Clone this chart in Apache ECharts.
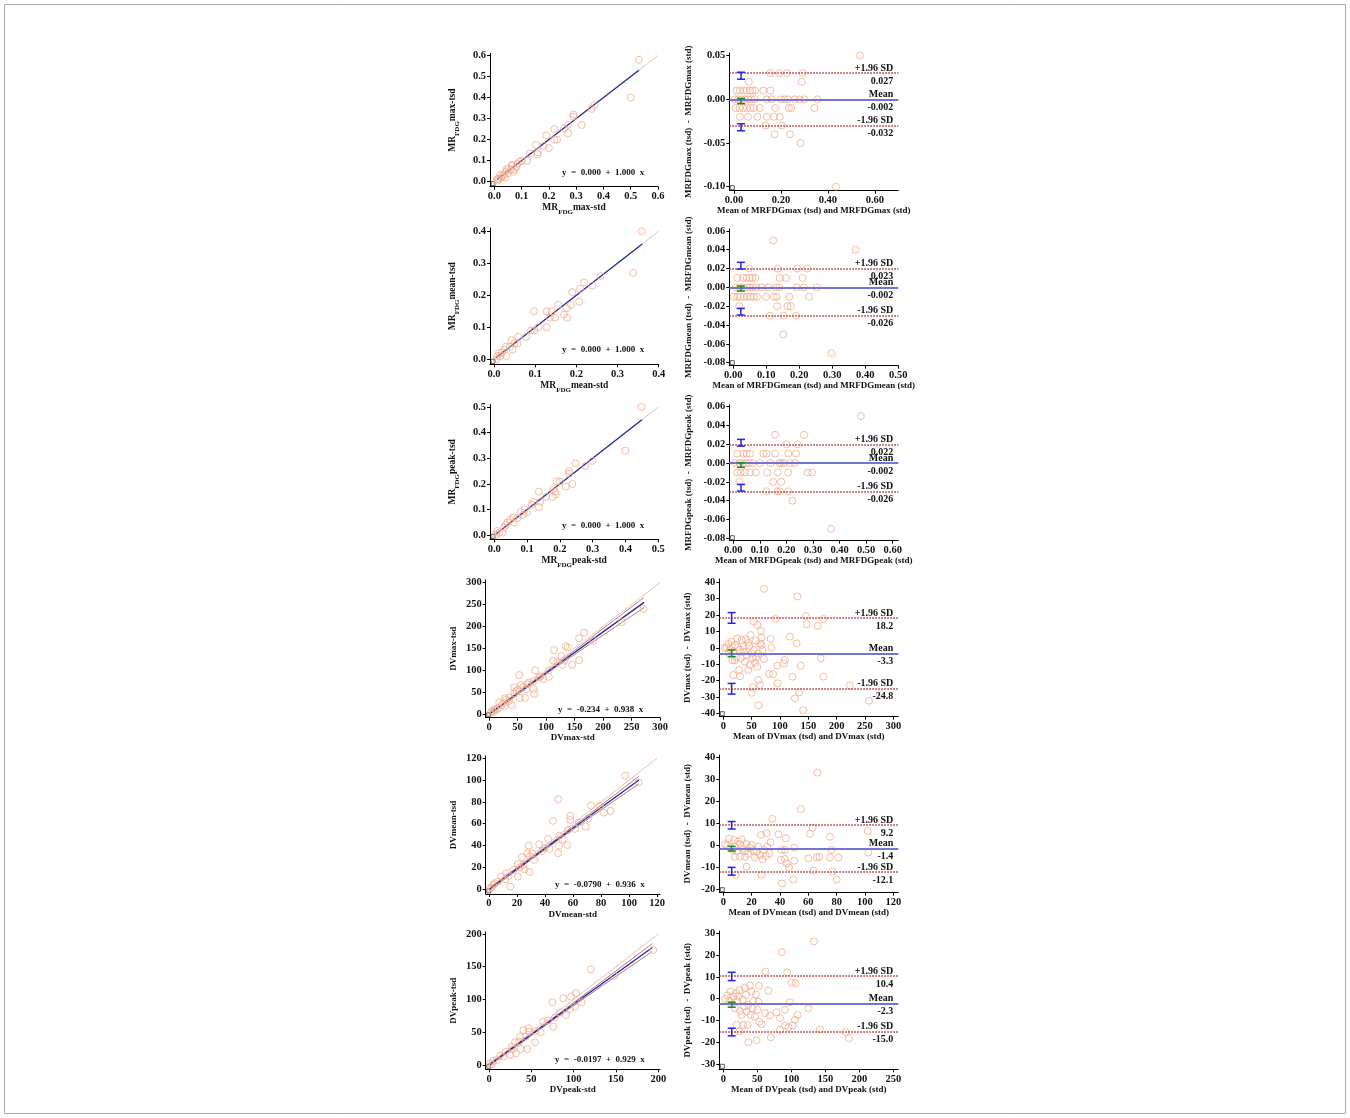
<!DOCTYPE html>
<html><head><meta charset="utf-8">
<script src="https://cdn.jsdelivr.net/npm/echarts@6/dist/echarts.min.js"></script>
<style>html,body{margin:0;padding:0;background:#fff}#c{width:1350px;height:1118px}</style>
</head><body><div id="c"></div>
<script>
// ---------------- DATA ----------------
// tick values
const tkMR6 = [0,0.1,0.2,0.3,0.4,0.5,0.6];
const tkMR4 = [0,0.1,0.2,0.3,0.4];
const tkMR5 = [0,0.1,0.2,0.3,0.4,0.5];
const tkBA1y = [-0.10,-0.05,0,0.05];
const tkBA1x = [0,0.2,0.4,0.6];
const tkBA2y = [-0.08,-0.06,-0.04,-0.02,0,0.02,0.04,0.06];
const tkBA2x = [0,0.1,0.2,0.3,0.4,0.5];
const tkBA3x = [0,0.1,0.2,0.3,0.4,0.5,0.6];
const tkDV300 = [0,50,100,150,200,250,300];
const tkBA4y = [-40,-30,-20,-10,0,10,20,30,40];
const tkDV120 = [0,20,40,60,80,100,120];
const tkBA5y = [-20,-10,0,10,20,30,40];
const tkDV200 = [0,50,100,150,200];
const tkBA6y = [-30,-20,-10,0,10,20,30];
const tkBA6x = [0,50,100,150,200,250];

// Regression equations [intercept, slope] and fitted x range
const eqMax = [0.000, 1.000], fitMax = [0.01, 0.53];
const eqMean = [0.000, 1.000], fitMean = [0.005, 0.36];
const eqPeak = [0.000, 1.000], fitPeak = [0.005, 0.45];
const eqDVmax = [-0.234, 0.938], fitDVmax = [1, 272];
const eqDVmean = [-0.0790, 0.936], fitDVmean = [0.5, 107];
const eqDVpeak = [-0.0197, 0.929], fitDVpeak = [1, 193];
const eqText = ['y  =  0.000  +  1.000  x','y  =  0.000  +  1.000  x','y  =  0.000  +  1.000  x',
  'y  =  -0.234  +  0.938  x','y  =  -0.0790  +  0.936  x','y  =  -0.0197  +  0.929  x'];

// identity line end points
const idMax = 0.6, idMean = 0.4, idPeak = 0.5, idDVmax = 300, idDVmean = 120, idDVpeak = 200;

// 95% CI bands of DV regressions
const ciUpDVmax = [[1,3],[30,30],[60,58.2],[100,96],[150,145],[200,195],[272,266]];
const ciLoDVmax = [[1,-1.5],[30,25.5],[60,53.8],[100,91.5],[150,136],[200,180],[272,243]];
const ciUpDVmean = [[0.5,1.6],[30,29],[60,57.5],[107,103.5]];
const ciLoDVmean = [[0.5,-0.8],[30,27],[60,54.7],[107,96.6]];
const ciUpDVpeak = [[1,2.6],[40,38.3],[100,95.2],[193,185.5]];
const ciLoDVpeak = [[1,-0.8],[40,35.9],[100,90.6],[193,173.5]];

// Bland-Altman limits [+1.96SD, mean, -1.96SD]
const limMax = [0.027,-0.002,-0.032];
const limMean = [0.023,-0.002,-0.026];
const limPeak = [0.022,-0.002,-0.026];
const limDVmax = [18.2,-3.3,-24.8];
const limDVmean = [9.2,-1.4,-12.1];
const limDVpeak = [10.4,-2.3,-15.0];
const limNames = ['+1.96 SD','Mean','-1.96 SD'];

// CI error bars [x, low, high, kind(0 limit,1 mean)]
const ebMax = [[0.03,0.023,0.031,0],[0.03,-0.005,0.001,1],[0.03,-0.036,-0.028,0]];
const ebMean = [[0.023,0.0195,0.0266,0],[0.023,-0.0039,0.0014,1],[0.023,-0.0294,-0.0223,0]];
const ebPeak = [[0.029,0.018,0.0252,0],[0.029,-0.0045,0.0004,1],[0.029,-0.0298,-0.0227,0]];
const ebDVmax = [[14.7,15,21.5,0],[14.7,-5.4,-1.3,1],[14.7,-28.2,-21.7,0]];
const ebDVmean = [[5.9,7.4,10.8,0],[5.9,-2.6,-0.45,1],[5.9,-13.5,-10,0]];
const ebDVpeak = [[12.3,8.3,12.1,0],[12.3,-3.9,-1.6,1],[12.3,-17,-13.5,0]];

// scatter: [std, tsd]
const mrMaxSc = [[0.53,0.58],[0.50,0.40],[0.366,0.362],[0.357,0.346],[0.32,0.27],[0.29,0.32],[0.29,0.31],[0.27,0.27],[0.256,0.254],[0.27,0.23],[0.22,0.25],[0.23,0.20],[0.22,0.20],[0.19,0.22],[0.20,0.16],[0.18,0.17],[0.153,0.175],[0.158,0.13],[0.16,0.14],[0.131,0.135],[0.121,0.10],[0.092,0.095],[0.085,0.085],[0.08,0.07],[0.064,0.075],[0.06,0.056],[0.07,0.048],[0.051,0.063],[0.043,0.048],[0.033,0.032],[0.039,0.02],[0.021,0.032],[0.015,0.016],[0.009,0.011],[0.012,0.005],[0.025,0.02],[0.05,0.04],[0.075,0.06],[0.1,0.1],[0.045,0.06],[0.065,0.08],[0.03,0.025]];
const mrMeanSc = [[0.359,0.40],[0.338,0.27],[0.259,0.26],[0.239,0.23],[0.219,0.24],[0.209,0.22],[0.207,0.18],[0.19,0.21],[0.187,0.17],[0.178,0.13],[0.17,0.14],[0.177,0.16],[0.156,0.17],[0.148,0.13],[0.136,0.13],[0.128,0.15],[0.14,0.15],[0.128,0.10],[0.097,0.15],[0.108,0.10],[0.098,0.09],[0.078,0.07],[0.059,0.07],[0.057,0.05],[0.043,0.06],[0.039,0.04],[0.029,0.04],[0.03,0.01],[0.019,0.02],[0.008,0.01],[0.006,0.0],[0.015,0.01],[0.05,0.05],[0.09,0.09],[0.045,0.03],[0.025,0.03],[0.012,0.02]];
const mrPeakSc = [[0.449,0.50],[0.40,0.33],[0.299,0.29],[0.278,0.27],[0.248,0.28],[0.228,0.25],[0.228,0.24],[0.238,0.20],[0.218,0.19],[0.19,0.21],[0.2,0.21],[0.185,0.17],[0.188,0.16],[0.178,0.15],[0.18,0.18],[0.158,0.15],[0.136,0.17],[0.136,0.11],[0.114,0.12],[0.14,0.13],[0.093,0.10],[0.088,0.08],[0.07,0.066],[0.058,0.07],[0.048,0.06],[0.04,0.05],[0.06,0.05],[0.035,0.04],[0.03,0.03],[0.025,0.01],[0.009,0.017],[0.005,0.003],[0.015,0.01],[0.1,0.09],[0.12,0.13],[0.08,0.09]];
const dvMaxSc = [[271,240],[233,210],[183,167],[167,186],[158,173],[158,123],[146,112],[138,152],[134,155],[132,122],[127,132],[129,112],[114,146],[113,122],[105,100],[105,85],[95,80],[88,84],[81,100],[78,75],[79,46],[78,57],[67,68],[65,57],[63,37],[53,89],[56,66],[51,56],[54,37],[44,61],[44,47],[40,20],[36,38],[28,36],[27,18],[22,20],[18,27],[16,13],[10,11],[6,8],[3,3],[48,52],[60,62],[70,72],[35,30],[25,25],[12,9],[8,5],[30,32],[90,86],[120,118]];
const dvMeanSc = [[97.3,104],[106.7,98],[86.8,71.8],[81.9,70.2],[79,76.6],[72.7,76.6],[70.9,65],[69,57.4],[61.5,55.3],[58,67.2],[58,63.5],[56.4,54.4],[56,40.6],[52.6,45.8],[50.3,48.9],[49.4,82.4],[49.4,33],[50,40],[45.6,62.6],[42.3,46],[43.3,37],[35.8,41.2],[39.5,37.6],[28.3,40],[28.8,15.9],[27.6,33],[31,33],[32.3,26.9],[29.2,30],[23.6,29.3],[24.6,22.3],[25.3,18.3],[20.6,22.9],[20.6,11.6],[17.5,17.7],[15.2,2.4],[12.4,14.7],[11.7,9.2],[8.9,11.6],[6.5,7],[4.2,5.5],[3,4],[1.9,1.8],[0.7,0.9],[64,61],[38,35],[22,20],[14,12]];
const dvPeakSc = [[194,175.6],[120,146],[148,136],[102.8,109.4],[96.9,104.3],[87.8,101.8],[74.8,95.7],[109.4,95.7],[101.6,89],[95.7,85.5],[90.9,76.3],[78,72.3],[76,58.5],[64.2,66],[61,50],[54.3,34.6],[46.5,56],[47.6,50.9],[40.6,53.4],[43.7,43.3],[45.3,24.4],[36.6,43.3],[35.8,35.6],[37.4,24.4],[30.7,34.6],[31.9,17.8],[26.8,28],[24.8,15.3],[20,20.4],[16.9,12.7],[13,14.2],[9,7.6],[5.1,6.1],[1.2,2.5],[3.1,1],[55,52],[70,68],[28,24],[84,80]];

// Bland-Altman: [mean, difference]
const mrMaxBA = [[0.537,0.05],[0.155,0.03],[0.194,0.03],[0.225,0.03],[0.293,0.03],[0.063,0.02],[0.289,0.02],[0.011,0.01],[0.025,0.01],[0.042,0.01],[0.054,0.01],[0.068,0.01],[0.079,0.01],[0.09,0.01],[0.125,0.01],[0.155,0.01],[0.004,0],[0.018,0],[0.032,0],[0.046,0],[0.06,0],[0.074,0],[0.088,0],[0.14,0],[0.16,0],[0.2,0],[0.215,0],[0.23,0],[0.26,0],[0.28,0],[0.30,0],[0.356,0],[0.008,-0.01],[0.023,-0.01],[0.039,-0.01],[0.054,-0.01],[0.07,-0.01],[0.085,-0.01],[0.11,-0.01],[0.176,-0.01],[0.234,-0.01],[0.244,-0.01],[0.342,-0.01],[0.025,-0.02],[0.06,-0.02],[0.10,-0.02],[0.14,-0.02],[0.17,-0.02],[0.195,-0.02],[0.135,-0.03],[0.204,-0.03],[0.173,-0.04],[0.239,-0.04],[0.283,-0.05],[0.434,-0.10]];
const mrMeanBA = [[0.121,0.05],[0.371,0.04],[0.048,0.02],[0.134,0.02],[0.194,0.02],[0.224,0.02],[0.012,0.01],[0.03,0.01],[0.04,0.01],[0.05,0.01],[0.058,0.01],[0.067,0.01],[0.141,0.01],[0.16,0.01],[0.21,0.01],[0.008,0],[0.02,0],[0.03,0],[0.04,0],[0.05,0],[0.06,0],[0.07,0],[0.085,0],[0.106,0],[0.13,0],[0.139,0],[0.192,0],[0.214,0],[0.253,0],[0.002,-0.01],[0.012,-0.01],[0.022,-0.01],[0.032,-0.01],[0.042,-0.01],[0.052,-0.01],[0.062,-0.01],[0.072,-0.01],[0.099,-0.01],[0.123,-0.01],[0.131,-0.01],[0.17,-0.01],[0.229,-0.01],[0.018,-0.02],[0.133,-0.02],[0.164,-0.02],[0.174,-0.02],[0.111,-0.03],[0.152,-0.03],[0.19,-0.03],[0.152,-0.05],[0.298,-0.07]];
const mrPeakBA = [[0.48,0.05],[0.157,0.03],[0.266,0.03],[0.20,0.02],[0.242,0.02],[0.015,0.01],[0.038,0.01],[0.05,0.01],[0.063,0.01],[0.113,0.01],[0.125,0.01],[0.157,0.01],[0.207,0.01],[0.236,0.01],[0.006,0],[0.023,0],[0.035,0],[0.048,0],[0.06,0],[0.073,0],[0.1,0],[0.14,0],[0.173,0],[0.18,0],[0.19,0],[0.213,0],[0.232,0],[0.015,-0.01],[0.028,-0.01],[0.044,-0.01],[0.063,-0.01],[0.085,-0.01],[0.128,-0.01],[0.167,-0.01],[0.207,-0.01],[0.279,-0.01],[0.297,-0.01],[0.023,-0.02],[0.151,-0.02],[0.18,-0.02],[0.125,-0.03],[0.166,-0.03],[0.176,-0.03],[0.207,-0.03],[0.222,-0.04],[0.368,-0.07]];
const dvMaxBA = [[71.8,36],[130.6,31.3],[145.9,19.4],[147,14.4],[166.5,13.5],[176.5,17.6],[92,17.6],[54,16],[60,14],[66.5,10.3],[117.6,6.8],[67.6,6.2],[129.4,2.7],[83.5,5.4],[85,0],[67.6,1.7],[69,-1.3],[171.8,-6.4],[71.8,-6.8],[108.8,-7.4],[107,-9.5],[95,-10.9],[136.5,-10.9],[176.5,-17.6],[122,-17.6],[81,-16],[88,-16],[96,-21.7],[61.8,-19.6],[64.7,-22.7],[223.5,-23],[51.8,-24.1],[126.5,-30.8],[134,-27.2],[50,-27.4],[257,-32.3],[61.8,-35.1],[141,-38],[5.9,0.3],[8.8,2.3],[11.8,-0.9],[14.7,3.8],[17.6,-2.3],[20.6,1.7],[23.5,-5.8],[24.7,5.8],[29.4,-1.3],[31,-6.4],[32.4,4.8],[35.3,0.7],[36.5,-2.3],[38.2,-8.5],[40,5.2],[41,-4.4],[44,-13.5],[45.9,1.3],[47,-10.5],[48.2,7.8],[50,-3.4],[51.8,-6.4],[54,-1.3],[55.9,-9.1],[57.6,4.4],[60,-11.5],[61.8,-3.4],[64.7,2.7],[17.6,-16.6],[29.4,-17.3],[28,-13.5],[20.6,-7.5],[16,-7.5],[2,0],[10,-3],[26,0.5],[44,3],[58,-6]];
const dvMeanBA = [[66.4,33],[54.6,16.4],[34.6,12],[63,8],[61.2,5.2],[101.9,6.5],[75.3,3.9],[30.6,5.5],[39,5],[26.6,4.7],[44.2,3.2],[102.4,-3.3],[76.5,-2.1],[50,-1.1],[41.2,-2.1],[43.5,-2.1],[67.8,-5.2],[65.9,-5.5],[75.3,-5.5],[81.2,-5.5],[60,-5.9],[40.7,-6.7],[43.5,-6.2],[50,-7],[44.7,-8.2],[46.4,-10],[63.5,-11.5],[77,-11.9],[80,-15.5],[49.4,-15.5],[41.4,-17.3],[16.5,-9.7],[27,-13.5],[8.9,-13.5],[1.2,0.5],[2.8,0],[4.2,3],[5.2,-0.9],[6.6,-2.1],[7.5,2.4],[8.2,-0.6],[9.4,-2.6],[10.6,1.7],[11.8,0.6],[12.9,2.7],[14.1,-1.4],[15.3,-2.6],[16.5,0.5],[17.6,-3.9],[18.8,-1.1],[20,0.2],[21.2,-2.1],[22.4,-5.5],[23.5,-2.9],[24.7,-0.6],[25.9,-4.4],[27.8,-6.4],[28.7,-2.1],[30.1,-4.8],[31,-0.6],[32.5,-3.6],[33.4,1.4],[8.2,-5.2],[11.8,-5.2],[15.3,-5.2]];
const dvPeakBA = [[133.3,26.2],[85.8,21.3],[94,12],[62.3,12.4],[100.5,7.4],[106.4,7.1],[52.5,5.9],[66.2,3.7],[98,-1.6],[125,-4.4],[90.7,-5.1],[61.3,-6.6],[109.3,-7.4],[78.4,-6.2],[68.6,-7.7],[83.3,-8.9],[105.4,-9.7],[52.9,-10.5],[56.4,-11.7],[90.7,-12.3],[102,-12.3],[96,-13],[83.3,-14.3],[70,-17.6],[49,-18.9],[36.8,-19.9],[142,-14],[180,-15.3],[185,-18],[2.5,0],[5.9,1.5],[8.8,-1],[10.8,3.3],[12.3,-2.5],[14.7,1],[17.2,-4.4],[18.6,2.5],[20.6,-1.3],[22,1],[23.5,4],[24.5,-5.6],[27,-7.4],[28.4,-0.5],[30.4,-3.6],[31.9,5.1],[33.3,1.8],[34.3,-5.9],[35.8,-12],[36.8,-2.8],[39.2,6],[40.2,-7.4],[41.7,3.3],[43.1,-4.4],[44.1,-1],[46.6,-8.2],[48,2],[50,-5.1],[51.5,-1.3],[19.6,-12],[29.4,-12],[23.5,-15]];

// ---------------- LAYOUT / STYLE ----------------
const FONT = '"Liberation Serif", "DejaVu Serif", serif';
const CIRC = '#F3AC8C';
const sub = () => ({a:{fontSize:9.5,fontWeight:'bold',fontFamily:FONT,color:'#111',lineHeight:11,verticalAlign:'top'},
                   s:{fontSize:7,fontWeight:'bold',fontFamily:FONT,color:'#111',lineHeight:7,verticalAlign:'top',padding:[6,0,0,0]}});

const panels = [
 {type:'sc', box:[490,53.5,168,133.2], xr:[-0.016,0.6], yr:[-0.024,0.61], xt:tkMR6, yt:tkMR6, xd:1, yd:1,
  xn:'{a|MR}{s|FDG}{a|max-std}', yn:'{a|MR}{s|FDG}{a|max-tsd}', rich:true, xg:15, yg:31,
  data:mrMaxSc, eq:eqMax, fit:fitMax, id:idMax, eqi:0, eqPos:[557,163]},
 {type:'ba', box:[729.3,53,169,137.7], xr:[-0.02,0.7], yr:[-0.1046,0.053], xt:tkBA1x, yt:tkBA1y, xd:2, yd:2,
  xn:'Mean of MRFDGmax (tsd) and MRFDGmax (std)', yn:'MRFDGmax (tsd)  -  MRFDGmax (std)', xg:14, yg:36,
  data:mrMaxBA, lim:limMax, ld:3, eb:ebMax},
 {type:'sc', box:[490,228,168.7,136.3], xr:[-0.0097,0.4], yr:[-0.0156,0.41], xt:tkMR4, yt:tkMR4, xd:1, yd:1,
  xn:'{a|MR}{s|FDG}{a|mean-std}', yn:'{a|MR}{s|FDG}{a|mean-tsd}', rich:true, xg:15, yg:31,
  data:mrMeanSc, eq:eqMean, fit:fitMean, id:idMean, eqi:1, eqPos:[557,340]},
 {type:'ba', box:[729.3,229,169,136.7], xr:[-0.012,0.5], yr:[-0.0832,0.062], xt:tkBA2x, yt:tkBA2y, xd:2, yd:2,
  xn:'Mean of MRFDGmean (tsd) and MRFDGmean (std)', yn:'MRFDGmean (tsd)  -  MRFDGmean (std)', xg:14, yg:36,
  data:mrMeanBA, lim:limMean, ld:3, eb:ebMean},
 {type:'sc', box:[490,404.4,168.3,134.9], xr:[-0.013,0.5], yr:[-0.0156,0.51], xt:tkMR5, yt:tkMR5, xd:1, yd:1,
  xn:'{a|MR}{s|FDG}{a|peak-std}', yn:'{a|MR}{s|FDG}{a|peak-tsd}', rich:true, xg:15, yg:31,
  data:mrPeakSc, eq:eqPeak, fit:fitPeak, id:idPeak, eqi:2, eqPos:[557,516]},
 {type:'ba', box:[729.3,404.8,169,135.9], xr:[-0.015,0.621], yr:[-0.0826,0.062], xt:tkBA3x, yt:tkBA2y, xd:2, yd:2,
  xn:'Mean of MRFDGpeak (tsd) and MRFDGpeak (std)', yn:'MRFDGpeak (tsd)  -  MRFDGpeak (std)', xg:14, yg:36,
  data:mrPeakBA, lim:limPeak, ld:3, eb:ebPeak},
 {type:'sc', box:[485.7,580,174.3,137.7], xr:[-5.8,300], yr:[-8.4,306], xt:tkDV300, yt:tkDV300, xd:0, yd:0,
  xn:'DVmax-std', yn:'DVmax-tsd', xg:14, yg:28,
  data:dvMaxSc, eq:eqDVmax, fit:fitDVmax, id:idDVmax, eqi:3, eqPos:[553,700], ciU:ciUpDVmax, ciL:ciLoDVmax},
 {type:'ba', box:[719.3,579,179,137.7], xr:[-7,308.8], yr:[-42,42], xt:tkDV300, yt:tkBA4y, xd:0, yd:0,
  xn:'Mean of DVmax (tsd) and DVmax (std)', yn:'DVmax (tsd)  -  DVmax (std)', xg:15, yg:27,
  data:dvMaxBA, lim:limDVmax, ld:1, eb:ebDVmax},
 {type:'sc', box:[485.7,756,174.3,138], xr:[-2.3,122], yr:[-4.3,122], xt:tkDV120, yt:tkDV120, xd:0, yd:0,
  xn:'DVmean-std', yn:'DVmean-tsd', xg:14, yg:28,
  data:dvMeanSc, eq:eqDVmean, fit:fitDVmean, id:idDVmean, eqi:4, eqPos:[550,875], ciU:ciUpDVmean, ciL:ciLoDVmean},
 {type:'ba', box:[719.3,755,179,137.7], xr:[-2.8,123.5], yr:[-21.5,41], xt:tkDV120, yt:tkBA5y, xd:0, yd:0,
  xn:'Mean of DVmean (tsd) and DVmean (std)', yn:'DVmean (tsd)  -  DVmean (std)', xg:15, yg:27,
  data:dvMeanBA, lim:limDVmean, ld:1, eb:ebDVmean},
 {type:'sc', box:[485.7,932,174.3,137.3], xr:[-3.9,202], yr:[-6.6,203], xt:tkDV200, yt:tkDV200, xd:0, yd:0,
  xn:'DVpeak-std', yn:'DVpeak-tsd', xg:14, yg:28,
  data:dvPeakSc, eq:eqDVpeak, fit:fitDVpeak, id:idDVpeak, eqi:5, eqPos:[550,1050], ciU:ciUpDVpeak, ciL:ciLoDVpeak},
 {type:'ba', box:[719.3,931,179,138.3], xr:[-5.9,257.4], yr:[-32.3,31], xt:tkBA6x, yt:tkBA6y, xd:0, yd:0,
  xn:'Mean of DVpeak (tsd) and DVpeak (std)', yn:'DVpeak (tsd)  -  DVpeak (std)', xg:15, yg:27,
  data:dvPeakBA, lim:limDVpeak, ld:1, eb:ebDVpeak}
];

const grid=[], xAxis=[], yAxis=[], series=[], title=[];
const lblStyle = {fontFamily:FONT, fontWeight:'bold', fontSize:10.5, color:'#111'};
const nameStyle = {fontFamily:FONT, fontWeight:'bold', fontSize:9, color:'#111'};

panels.forEach((p,i)=>{
  grid.push({left:p.box[0], top:p.box[1], width:p.box[2], height:p.box[3], containLabel:false});
  const common = {gridIndex:i, type:'value', splitLine:{show:false},
    axisLine:{show:true,onZero:false,lineStyle:{color:'#000',width:1}},
    axisTick:{show:true,inside:false,length:3,lineStyle:{color:'#000'}},
    nameLocation:'middle'};
  xAxis.push(Object.assign({}, common, {min:p.xr[0], max:p.xr[1],
    axisTick:Object.assign({}, common.axisTick, {customValues:p.xt}),
    axisLabel:Object.assign({customValues:p.xt, margin:4, formatter:v=>Number(v).toFixed(p.xd)}, lblStyle),
    name:p.xn, nameGap:p.xg,
    nameTextStyle:p.rich ? {rich:sub()} : nameStyle}));
  yAxis.push(Object.assign({}, common, {min:p.yr[0], max:p.yr[1],
    axisTick:Object.assign({}, common.axisTick, {customValues:p.yt}),
    axisLabel:Object.assign({customValues:p.yt, margin:4, formatter:v=>Number(v).toFixed(p.yd)}, lblStyle),
    name:p.yn, nameGap:p.yg, nameRotate:90,
    nameTextStyle:p.rich ? {rich:sub()} : nameStyle}));

  const ax = {xAxisIndex:i, yAxisIndex:i};
  // corner marker
  series.push(Object.assign({type:'scatter', silent:true, symbol:'rect', symbolSize:4, symbolOffset:[3,-3],
    itemStyle:{color:'rgba(0,0,0,0)', borderColor:'#333', borderWidth:1}, data:[[p.xr[0],p.yr[0]]], z:1, clip:false}, ax));

  if(p.type==='sc'){
    series.push(Object.assign({type:'line', silent:true, symbol:'none', data:[[0,0],[p.id,p.id]],
      lineStyle:{color:'#EDBDBD', width:1}, z:2}, ax));
    if(p.ciU){
      series.push(Object.assign({type:'line', silent:true, symbol:'none', smooth:true, data:p.ciU,
        lineStyle:{color:'#B8787A', width:1}, z:3}, ax));
      series.push(Object.assign({type:'line', silent:true, symbol:'none', smooth:true, data:p.ciL,
        lineStyle:{color:'#B8787A', width:1}, z:3}, ax));
    }
    series.push(Object.assign({type:'line', silent:true, symbol:'none',
      data:[[p.fit[0], p.eq[0]+p.eq[1]*p.fit[0]],[p.fit[1], p.eq[0]+p.eq[1]*p.fit[1]]],
      lineStyle:{color:'#1F2A9E', width:1.3}, z:4}, ax));
    series.push(Object.assign({type:'scatter', silent:true, symbol:'circle', symbolSize:7, data:p.data,
      itemStyle:{color:'rgba(0,0,0,0)', borderColor:CIRC, borderWidth:1}, z:5}, ax));
    title.push({text:eqText[p.eqi], left:p.eqPos[0], top:p.eqPos[1],
      textStyle:{fontFamily:FONT, fontWeight:'bold', fontSize:9, color:'#111'}});
  } else {
    series.push(Object.assign({type:'scatter', silent:true, symbol:'circle', symbolSize:7, data:p.data,
      itemStyle:{color:'rgba(0,0,0,0)', borderColor:CIRC, borderWidth:1}, z:3}, ax));
    const sd = {color:'#B0262A', width:1.5, type:'dotted'};
    const mn = {color:'#7474D6', width:1.8, type:'solid'};
    const lab = {fontFamily:FONT, fontWeight:'bold', fontSize:10, color:'#111', distance:0, lineHeight:10};
    const mdTop = [], mdBot = [];
    p.lim.forEach((v,k)=>{
      const st = k===1 ? mn : sd;
      mdTop.push({yAxis:v, lineStyle:st, label:Object.assign({position:'insideEndTop', formatter:limNames[k], padding:[0,5,0,0]}, lab)});
      mdBot.push({yAxis:v, lineStyle:{color:'rgba(0,0,0,0)', width:0.1}, label:Object.assign({position:'insideEndBottom', formatter:v.toFixed(p.ld), padding:[3,5,0,0]}, lab)});
    });
    series.push(Object.assign({type:'line', silent:true, data:[], z:4,
      markLine:{silent:true, symbol:'none', animation:false, data:mdTop}}, ax));
    series.push(Object.assign({type:'line', silent:true, data:[], z:4,
      markLine:{silent:true, symbol:'none', animation:false, data:mdBot}}, ax));
    series.push(Object.assign({type:'custom', silent:true, z:6, data:p.eb, encode:{x:0, y:[1,2]},
      renderItem:(params, api)=>{
        const x=api.value(0), lo=api.value(1), hi=api.value(2), k=api.value(3);
        const a=api.coord([x,lo]), b=api.coord([x,hi]);
        const c = k ? '#1E8C2A' : '#2424E6', w=4, lw=1.5;
        return {type:'group', children:[
          {type:'line', shape:{x1:a[0],y1:a[1],x2:b[0],y2:b[1]}, style:{stroke:c,lineWidth:lw}},
          {type:'line', shape:{x1:a[0]-w,y1:a[1],x2:a[0]+w,y2:a[1]}, style:{stroke:c,lineWidth:lw}},
          {type:'line', shape:{x1:b[0]-w,y1:b[1],x2:b[0]+w,y2:b[1]}, style:{stroke:c,lineWidth:lw}}]};
      }}, ax));
  }
});

const chart = echarts.init(document.getElementById('c'), null, {renderer:'canvas'});
chart.setOption({
  backgroundColor:'#fff', animation:false,
  textStyle:{fontFamily:FONT},
  graphic:[{type:'rect', shape:{x:4.5,y:4.5,width:1341,height:1109}, style:{fill:'none', stroke:'#aaa', lineWidth:1}, silent:true}],
  title, grid, xAxis, yAxis, series
});
</script></body></html>
